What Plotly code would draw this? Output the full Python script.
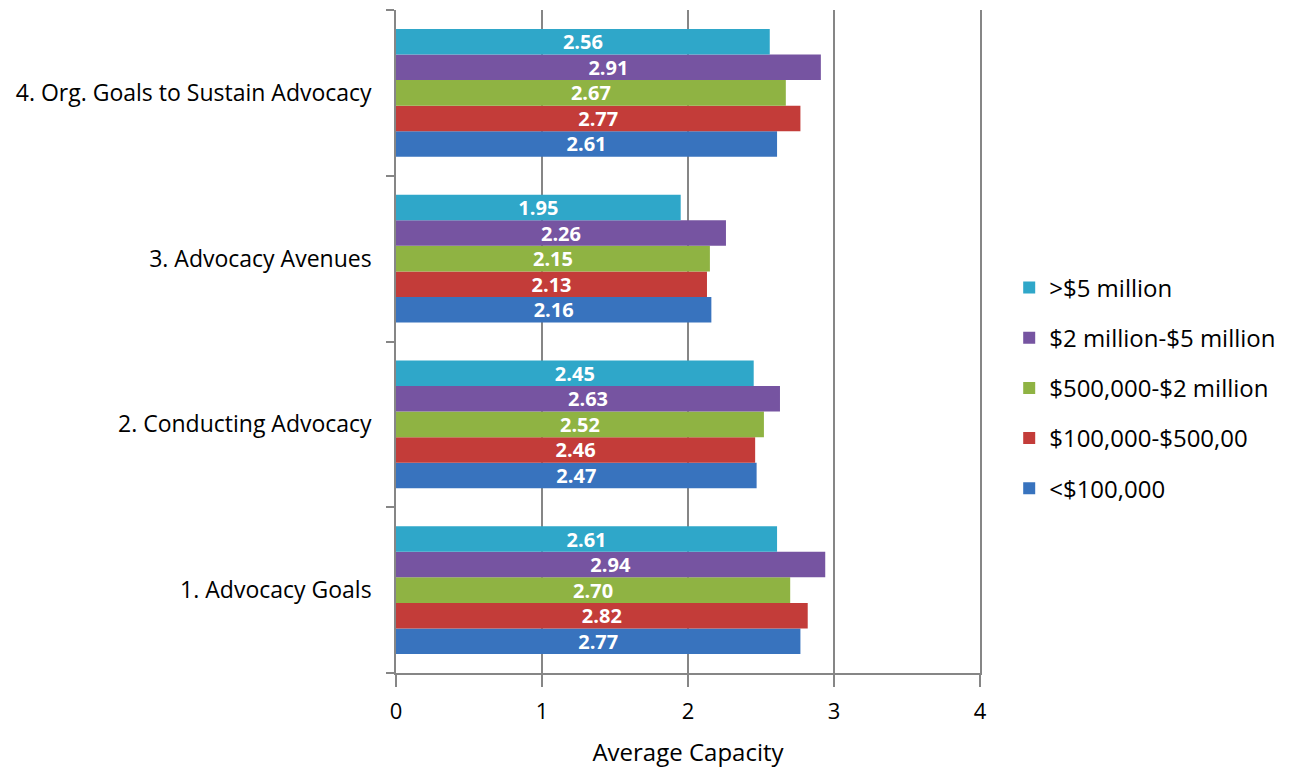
import plotly.graph_objects as go

categories = [
    "1. Advocacy Goals",
    "2. Conducting Advocacy",
    "3. Advocacy Avenues",
    "4. Org. Goals to Sustain Advocacy",
]

series_names = [
    "<$100,000",
    "$100,000-$500,00",
    "$500,000-$2 million",
    "$2 million-$5 million",
    ">$5 million",
]

under_100k = [2.77, 2.47, 2.16, 2.61]
from_100k_to_500k = [2.82, 2.46, 2.13, 2.77]
from_500k_to_2m = [2.70, 2.52, 2.15, 2.67]
from_2m_to_5m = [2.94, 2.63, 2.26, 2.91]
over_5m = [2.61, 2.45, 1.95, 2.56]

series_values = [under_100k, from_100k_to_500k, from_500k_to_2m, from_2m_to_5m, over_5m]
series_colors = ["#3873BE", "#C33C39", "#8FB343", "#7654A1", "#2FA7C9"]

FONT = "Open Sans"

fig = go.Figure()
n = len(series_names)
for i, (name, values, color) in enumerate(zip(series_names, series_values, series_colors)):
    fig.add_trace(
        go.Bar(
            y=categories,
            x=values,
            name=name,
            orientation="h",
            legendgroup=name,
            legendrank=(n - i) * 100,
            marker=dict(color=color, line=dict(width=0)),
            text=[f"{v:.2f}" for v in values],
            textposition="inside",
            insidetextanchor="middle",
            textangle=0,
            textfont=dict(family=FONT, size=20, color="white", weight="bold"),
            cliponaxis=False,
        )
    )

fig.update_layout(
    width=1299,
    height=772,
    barmode="group",
    bargap=0.23,
    bargroupgap=0,
    plot_bgcolor="white",
    paper_bgcolor="white",
    margin=dict(l=396, r=319, t=10, b=94),
    font=dict(family=FONT, size=22, color="#000000"),
    uniformtext=dict(minsize=20, mode="show"),
    legend=dict(
        traceorder="grouped",
        x=1.05,
        xanchor="left",
        y=0.43,
        yanchor="middle",
        tracegroupgap=16,
        font=dict(family=FONT, size=24, color="#000000"),
        itemwidth=30,
    ),
    showlegend=True,
)

fig.update_xaxes(
    range=[0, 4],
    dtick=1,
    showgrid=True,
    gridcolor="#868686",
    gridwidth=1.5,
    zeroline=False,
    showline=True,
    linecolor="#868686",
    linewidth=1.5,
    ticks="outside",
    ticklen=12,
    tickcolor="#868686",
    tickwidth=1.5,
    ticklabelstandoff=6,
    tickfont=dict(family=FONT, size=22, color="#000000"),
    title=dict(text="Average Capacity", font=dict(family=FONT, size=24, color="#000000"), standoff=20),
)

fig.update_yaxes(
    type="category",
    showline=True,
    mirror=True,
    linecolor="#868686",
    linewidth=1.5,
    ticks="outside",
    tickson="boundaries",
    ticklen=8,
    tickcolor="#868686",
    tickwidth=1.5,
    showgrid=False,
    tickfont=dict(family=FONT, size=23, color="#000000"),
    ticklabelstandoff=18,
)

fig.write_html("out.html")
